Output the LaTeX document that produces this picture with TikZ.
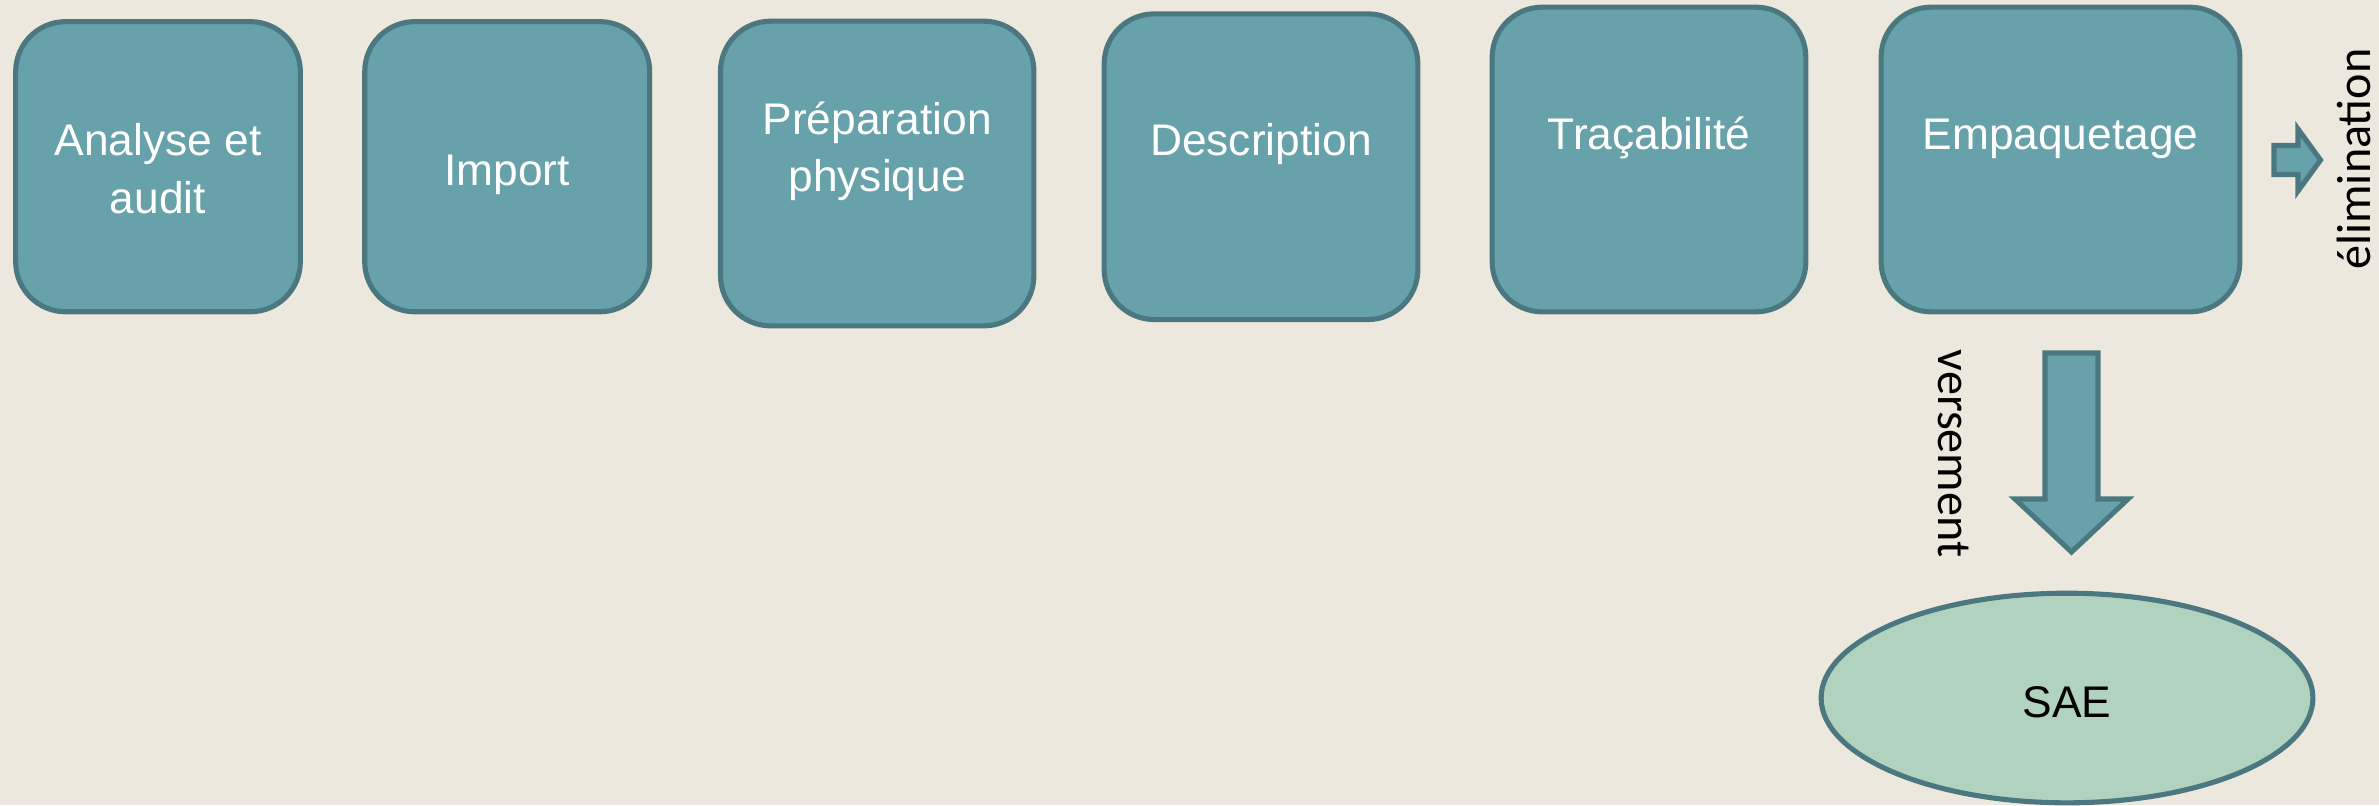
\documentclass[tikz,border=0pt]{standalone}
\usepackage{fontspec}
\setmainfont{Liberation Sans}
\newfontfamily\calfont{Carlito}
\usetikzlibrary{shapes.geometric}
\definecolor{bgc}{RGB}{236,232,222}
\definecolor{boxfill}{RGB}{103,161,170}
\definecolor{boxline}{RGB}{75,120,128}
\definecolor{saefill}{RGB}{176,210,191}
\begin{document}
\begin{tikzpicture}[x=0.01cm,y=-0.01cm,
  stepbox/.style={draw=boxline, fill=boxfill, line width=1.45pt, rounded corners=0.5cm, inner sep=0pt},
  boxtext/.style={text=white, font=\fontsize{12.6}{16.4}\selectfont, align=center, anchor=base, inner sep=0pt},
  blockarrow/.style={draw=boxline, fill=boxfill, line width=1.45pt, line join=miter},
  sidetext/.style={font=\calfont\fontsize{13.7}{16}\selectfont, text=black, inner sep=0pt, anchor=base}]
\useasboundingbox (0,0) rectangle (2379,805);
\fill[bgc] (0,0) rectangle (2379,805);
% boxes
\node[stepbox, minimum width=2.845cm, minimum height=2.90cm] (b1) at (158,166.7) {};
\node[stepbox, minimum width=2.848cm, minimum height=2.90cm] (b2) at (507.2,166.7) {};
\node[stepbox, minimum width=3.132cm, minimum height=3.045cm] (b3) at (877.2,173.5) {};
\node[stepbox, minimum width=3.135cm, minimum height=3.055cm] (b4) at (1261,166.7) {};
\node[stepbox, minimum width=3.135cm, minimum height=3.045cm] (b5) at (1649,159.5) {};
\node[stepbox, minimum width=3.585cm, minimum height=3.045cm] (b6) at (2060.5,159.5) {};
% box texts (base anchor = baseline of the last line)
\node[boxtext] (t1) at (158,213.3) {Analyse et\\audit};
\node[boxtext] (t2) at (507.2,185) {Import};
\node[boxtext] (t3) at (877.2,191.7) {Préparation\\physique};
\node[boxtext] (t4) at (1261,155) {Description};
\node[boxtext] (t5) at (1649,149) {Traçabilité};
\node[boxtext] (t6) at (2060.5,149) {Empaquetage};
% SAE ellipse
\node[ellipse, draw=boxline, fill=saefill, line width=1.45pt, minimum width=4.915cm, minimum height=2.095cm,
      inner sep=0pt, font=\fontsize{12.6}{15}\selectfont, text height=11.3pt, text depth=0pt] (sae) at (2067,698) {SAE};
% block arrows
\draw[blockarrow] (2045,353) -- (2098,353) -- (2098,499) -- (2128,499) -- (2071.5,552) -- (2015,499) -- (2045,499) -- cycle;
\draw[blockarrow] (2274,145.5) -- (2298,145.5) -- (2298,129) -- (2320.5,160) -- (2298,191) -- (2298,174.5) -- (2274,174.5) -- cycle;
% side labels
\node[sidetext, rotate=90] (elim) at (2370,159) {élimination};
\node[sidetext, rotate=-90] (vers) at (1938.5,453.5) {versement};
\end{tikzpicture}
\end{document}
